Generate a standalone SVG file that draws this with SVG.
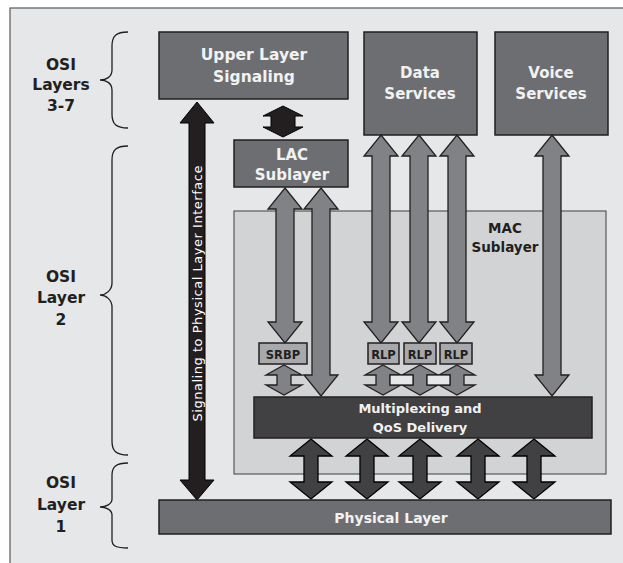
<svg xmlns="http://www.w3.org/2000/svg" xmlns:xlink="http://www.w3.org/1999/xlink" width="623" height="563" viewBox="0 0 623 563">
  <style>
    .frame { fill: #e6e7e8; stroke: #58595b; stroke-width: 1.2; }
    .box { fill: #6d6e71; stroke: #231f20; stroke-width: 1.5; }
    .mac { fill: #d1d3d4; stroke: #58595b; stroke-width: 1.2; }
    .mux { fill: #414042; stroke: #231f20; stroke-width: 1.5; }
    .small { fill: #a7a9ac; stroke: #231f20; stroke-width: 1.5; }
    .garrow { fill: #808285; stroke: #231f20; stroke-width: 1.3; }
    .darrow { fill: #414042; stroke: #000; stroke-width: 1.3; }
    .barrow { fill: #231f20; stroke: #000; stroke-width: 1; }
    .link { fill: #e6e7e8; stroke: #231f20; stroke-width: 1.3; }
    .brace { fill: none; stroke: #231f20; stroke-width: 1.3; }
    .lbl { font-family: "DejaVu Sans", Verdana, sans-serif; font-weight: bold; text-anchor: middle; }
    .w { fill: #f1f2f2; }
    .k { fill: #231f20; }
    .sm { font-family: "DejaVu Sans", Verdana, sans-serif; font-weight: bold; font-size: 11.5px; text-anchor: middle; fill: #231f20; }
    .sig { font-family: "DejaVu Sans", Verdana, sans-serif; font-size: 13px; text-anchor: middle; fill: #ffffff; }
  </style>
  <defs>
    <path id="dataArrow" d="M0,0 L17,21 L9,21 L9,187 L17,187 L0,208 L-17,187 L-9,187 L-9,21 L-17,21 Z"/>
    <path id="smallArrow" d="M0,0 L18,10 L7,10 L7,20 L18,20 L0,30 L-18,20 L-7,20 L-7,10 L-18,10 Z"/>
    <path id="darkArrow" d="M0,0 L21,17 L7,17 L7,43 L21,43 L0,60 L-21,43 L-7,43 L-7,17 L-21,17 Z"/>
  </defs>

  <rect class="frame" x="10" y="8" width="620" height="560"/>

  <g id="braces">
    <path class="brace" d="M128,32 C116,32 112,36 112,46 L112,70 C112,77 106,80 100,80 C106,80 112,83 112,90 L112,114 C112,124 116,128 128,128"/>
    <path class="brace" d="M128,146 C116,146 112,150 112,160 L112,283 C112,290 106,295 100,295 C106,295 112,300 112,307 L112,441 C112,451 116,455 128,455"/>
    <path class="brace" d="M128,463 C116,463 112,467 112,475 L112,499 C112,504 106,507 100,507 C106,507 112,510 112,515 L112,540 C112,546 116,548 128,548"/>
  </g>

  <g id="osi-labels" class="lbl k" font-size="15.5">
    <text x="61" y="69.5">OSI</text>
    <text x="61" y="90">Layers</text>
    <text x="61" y="111">3-7</text>
    <text x="61" y="282">OSI</text>
    <text x="61" y="303">Layer</text>
    <text x="61" y="325">2</text>
    <text x="61" y="488">OSI</text>
    <text x="61" y="509.5">Layer</text>
    <text x="61" y="531.5">1</text>
  </g>

  <g id="mac-sublayer">
    <rect class="mac" x="234" y="211" width="372" height="263"/>
    <text class="lbl k" font-size="13.5" x="505" y="233">MAC</text>
    <text class="lbl k" font-size="13.5" x="505" y="252">Sublayer</text>
  </g>

  <g id="upper-layer-signaling">
    <rect class="box" x="159" y="32" width="189" height="67"/>
    <text class="lbl w" font-size="15.5" x="254" y="60">Upper Layer</text>
    <text class="lbl w" font-size="15.5" x="254" y="82">Signaling</text>
  </g>

  <g id="data-services">
    <rect class="box" x="364" y="32" width="113" height="103"/>
    <text class="lbl w" font-size="15" x="420" y="78">Data</text>
    <text class="lbl w" font-size="15" x="420" y="98.5">Services</text>
  </g>

  <g id="voice-services">
    <rect class="box" x="495" y="32" width="113" height="103"/>
    <text class="lbl w" font-size="15" x="551" y="78">Voice</text>
    <text class="lbl w" font-size="15" x="551" y="98.5">Services</text>
  </g>

  <g id="lac-sublayer">
    <rect class="box" x="234" y="140" width="114" height="47"/>
    <text class="lbl w" font-size="15" x="292" y="159.5">LAC</text>
    <text class="lbl w" font-size="15" x="292" y="180">Sublayer</text>
  </g>

  <g id="connectors">
    <path class="barrow" d="M197,102 L214,123 L205,123 L205,480 L214,480 L197,500 L180,480 L189,480 L189,123 L180,123 Z"/>
    <path class="barrow" d="M283,106 L303,116 L295,116 L295,127 L303,127 L283,137 L263,127 L271,127 L271,116 L263,116 Z"/>
    <path class="garrow" d="M285,188 L302,209 L294,209 L294,322 L302,322 L285,343 L268,322 L276,322 L276,209 L268,209 Z"/>
    <path class="garrow" d="M321,188 L338,209 L330,209 L330,375 L338,375 L321,396 L304,375 L312,375 L312,209 L304,209 Z"/>
    <use class="garrow" xlink:href="#dataArrow" x="381" y="135"/>
    <use class="garrow" xlink:href="#dataArrow" x="419" y="135"/>
    <use class="garrow" xlink:href="#dataArrow" x="457" y="135"/>
    <path class="garrow" d="M552,135 L569,156 L561,156 L561,375 L569,375 L552,396 L535,375 L543,375 L543,156 L535,156 Z"/>
    <use class="garrow" xlink:href="#smallArrow" x="284" y="365"/>
    <use class="garrow" xlink:href="#smallArrow" x="383" y="365"/>
    <use class="garrow" xlink:href="#smallArrow" x="420" y="365"/>
    <use class="garrow" xlink:href="#smallArrow" x="457" y="365"/>
    <rect class="link" x="390" y="375" width="23" height="10"/>
    <rect class="link" x="427" y="375" width="23" height="10"/>
    <use class="darrow" xlink:href="#darkArrow" x="311" y="439"/>
    <use class="darrow" xlink:href="#darkArrow" x="367" y="439"/>
    <use class="darrow" xlink:href="#darkArrow" x="420" y="439"/>
    <use class="darrow" xlink:href="#darkArrow" x="478" y="439"/>
    <use class="darrow" xlink:href="#darkArrow" x="534" y="439"/>
    <text class="sig" transform="translate(201.5,293.5) rotate(-90)" textLength="256" lengthAdjust="spacing">Signaling to Physical Layer Interface</text>
  </g>

  <g id="srbp">
    <rect class="small" x="259" y="343" width="48" height="21"/>
    <text class="sm" x="283" y="358.5">SRBP</text>
  </g>
  <g id="rlp-1">
    <rect class="small" x="368" y="343" width="31" height="21"/>
    <text class="sm" x="383.5" y="358.5">RLP</text>
  </g>
  <g id="rlp-2">
    <rect class="small" x="404" y="343" width="32" height="21"/>
    <text class="sm" x="420" y="358.5">RLP</text>
  </g>
  <g id="rlp-3">
    <rect class="small" x="440" y="343" width="32" height="21"/>
    <text class="sm" x="456" y="358.5">RLP</text>
  </g>

  <g id="multiplexing">
    <rect class="mux" x="254" y="397" width="338" height="41"/>
    <text class="lbl w" font-size="13" x="420" y="413">Multiplexing and</text>
    <text class="lbl w" font-size="13" x="420" y="432">QoS Delivery</text>
  </g>

  <g id="physical-layer">
    <rect class="box" x="159" y="500" width="452" height="34"/>
    <text class="lbl w" font-size="14" x="391" y="522.5">Physical Layer</text>
  </g>
</svg>
